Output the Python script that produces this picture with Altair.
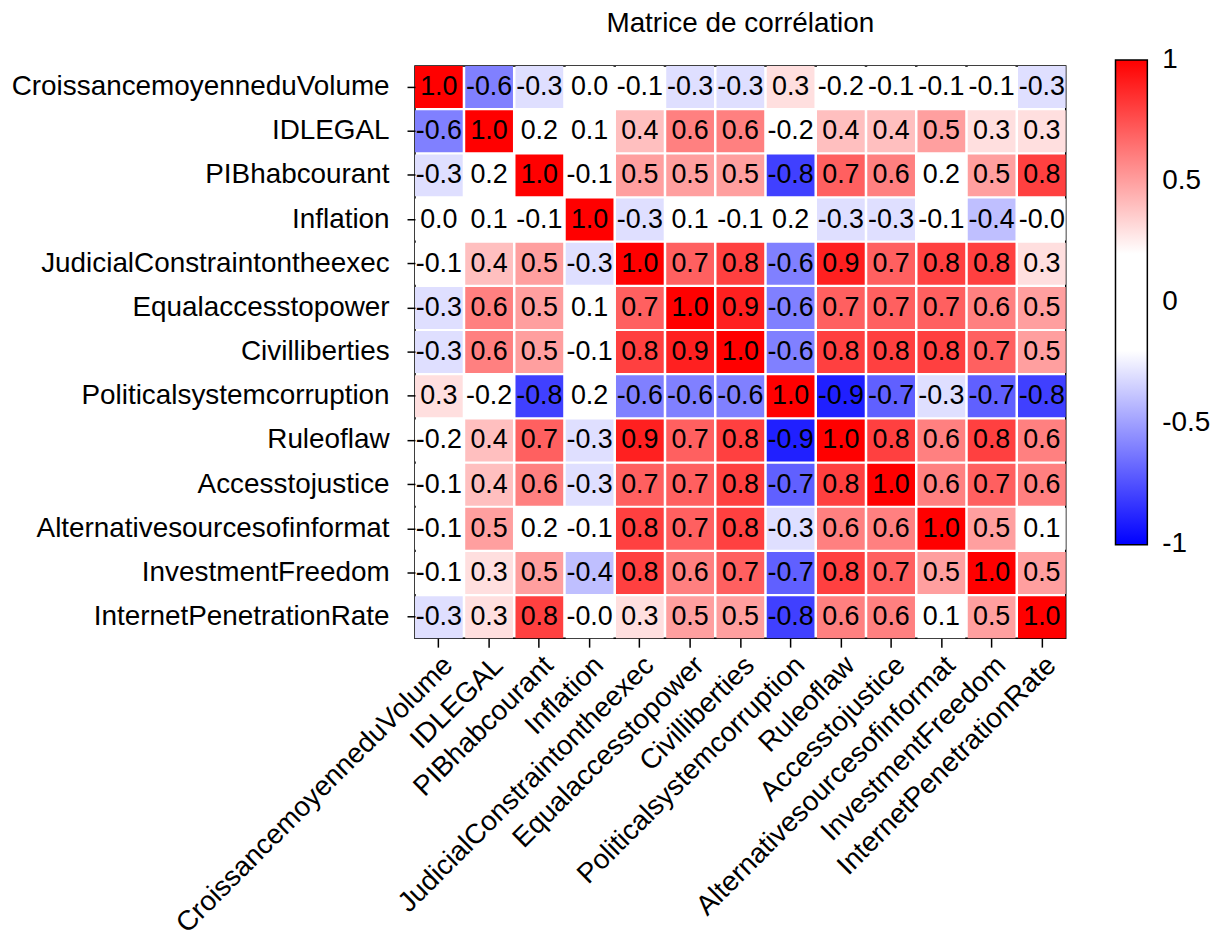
import altair as alt
import pandas as pd

names = [
    "CroissancemoyenneduVolume", "IDLEGAL", "PIBhabcourant", "Inflation",
    "JudicialConstraintontheexec", "Equalaccesstopower", "Civilliberties",
    "Politicalsystemcorruption", "Ruleoflaw", "Accesstojustice",
    "Alternativesourcesofinformat", "InvestmentFreedom", "InternetPenetrationRate",
]

corr = [
    [1.0, -0.6, -0.3, 0.0, -0.1, -0.3, -0.3, 0.3, -0.2, -0.1, -0.1, -0.1, -0.3],
    [-0.6, 1.0, 0.2, 0.1, 0.4, 0.6, 0.6, -0.2, 0.4, 0.4, 0.5, 0.3, 0.3],
    [-0.3, 0.2, 1.0, -0.1, 0.5, 0.5, 0.5, -0.8, 0.7, 0.6, 0.2, 0.5, 0.8],
    [0.0, 0.1, -0.1, 1.0, -0.3, 0.1, -0.1, 0.2, -0.3, -0.3, -0.1, -0.4, -0.0],
    [-0.1, 0.4, 0.5, -0.3, 1.0, 0.7, 0.8, -0.6, 0.9, 0.7, 0.8, 0.8, 0.3],
    [-0.3, 0.6, 0.5, 0.1, 0.7, 1.0, 0.9, -0.6, 0.7, 0.7, 0.7, 0.6, 0.5],
    [-0.3, 0.6, 0.5, -0.1, 0.8, 0.9, 1.0, -0.6, 0.8, 0.8, 0.8, 0.7, 0.5],
    [0.3, -0.2, -0.8, 0.2, -0.6, -0.6, -0.6, 1.0, -0.9, -0.7, -0.3, -0.7, -0.8],
    [-0.2, 0.4, 0.7, -0.3, 0.9, 0.7, 0.8, -0.9, 1.0, 0.8, 0.6, 0.8, 0.6],
    [-0.1, 0.4, 0.6, -0.3, 0.7, 0.7, 0.8, -0.7, 0.8, 1.0, 0.6, 0.7, 0.6],
    [-0.1, 0.5, 0.2, -0.1, 0.8, 0.7, 0.8, -0.3, 0.6, 0.6, 1.0, 0.5, 0.1],
    [-0.1, 0.3, 0.5, -0.4, 0.8, 0.6, 0.7, -0.7, 0.8, 0.7, 0.5, 1.0, 0.5],
    [-0.3, 0.3, 0.8, -0.0, 0.3, 0.5, 0.5, -0.8, 0.6, 0.6, 0.1, 0.5, 1.0],
]

# colorbar label positions (ends nudged inside so labels stay centred on the ends)
legend_values = [-0.999, -0.5, 0, 0.5, 0.999]

records = []
for i, r in enumerate(names):
    for j, c in enumerate(names):
        v = corr[i][j]
        records.append({"row": r, "col": c, "value": v, "label": f"{v:.1f}"})
df = pd.DataFrame(records)

FONT = "Liberation Sans"

x_enc = alt.X(
    "col:N", sort=names, title=None,
    scale=alt.Scale(paddingInner=0.05, paddingOuter=0),
    axis=alt.Axis(
        labelAngle=-45, labelAlign="right", labelBaseline="top",
        labelFontSize=28, labelFont=FONT, labelColor="black",
        labelPadding=4, labelLimit=0, labelOverlap=False,
        tickColor="black", tickSize=9, tickWidth=1.5, domain=False,
    ),
)
y_enc = alt.Y(
    "row:N", sort=names, title=None,
    scale=alt.Scale(paddingInner=0.05, paddingOuter=0),
    axis=alt.Axis(
        labelFontSize=28, labelFont=FONT, labelColor="black",
        labelPadding=18, labelLimit=0, labelOverlap=False,
        tickColor="black", tickSize=8, tickWidth=1.5, domain=False,
    ),
)

base = alt.Chart(df).encode(x=x_enc, y=y_enc)

rects = base.mark_rect().encode(
    color=alt.Color(
        "value:Q", title=None,
        scale=alt.Scale(
            domain=[-1, -0.2, 0.2, 1],
            range=["#0000ff", "#ffffff", "#ffffff", "#ff0000"],
            interpolate="rgb",
        ),
        legend=alt.Legend(
            orient="none", legendX=704, legendY=-6, direction="vertical",
            gradientLength=487, gradientThickness=32,
            gradientStrokeColor="black", gradientStrokeWidth=1.5,
            values=legend_values,
            labelExpr="(datum.value >= 0 ? '\u00a0' : '') + toString(round(datum.value * 2) / 2)",
            labelFontSize=28, labelFont=FONT, labelColor="black",
            labelOffset=15, labelBaseline="middle", padding=0,
        ),
    )
)

texts = base.mark_text(fontSize=27, font=FONT, color="black").encode(
    text="label:N"
)

chart = (
    alt.layer(rects, texts)
    .properties(
        width=654,
        height=575,
        title=alt.Title(
            "Matrice de corrélation", fontSize=28, font=FONT,
            fontWeight="normal", color="black", offset=22, frame="group",
        ),
        autosize=alt.AutoSizeParams(type="none"),
        padding={"left": 409, "top": 56, "right": 150, "bottom": 300},
    )
    .configure_view(stroke="black", strokeWidth=1.5)
)

chart.save("out.html", embed_options={"renderer": "svg", "actions": False})
